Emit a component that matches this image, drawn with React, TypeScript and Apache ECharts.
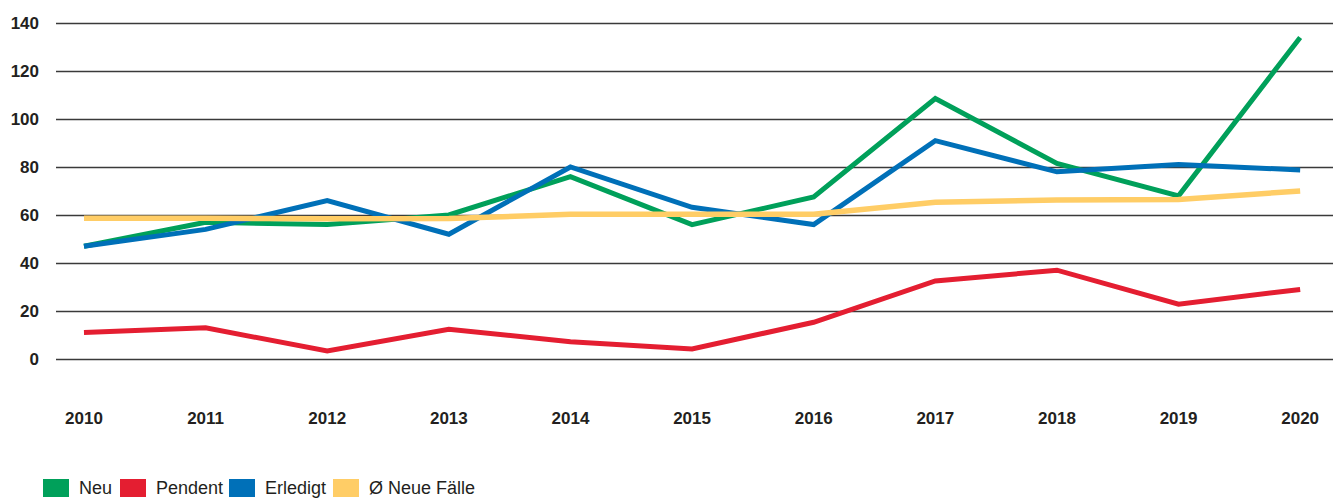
import React, { useEffect, useRef } from "react";
import * as echarts from "echarts";

const years = [2010, 2011, 2012, 2013, 2014, 2015, 2016, 2017, 2018, 2019, 2020];
const neu = [47, 57, 56, 60, 76, 56, 67.5, 108.5, 81.5, 68, 134];
const pendent = [11, 13, 3.3, 12.4, 7.2, 4.2, 15.3, 32.5, 37, 22.8, 29];
const erledigt = [47, 54, 66, 52, 80, 63.2, 56, 91, 78, 81, 78.8];
const avgNeu = [58.6, 58.6, 58.4, 58.5, 60.3, 60.3, 60.3, 65.3, 66.3, 66.5, 70];
const seriesNames = ["Neu", "Pendent", "Erledigt", "Ø Neue Fälle"];
const yTicks = [0, 20, 40, 60, 80, 100, 120, 140];

const FONT = "'Liberation Sans Narrow', 'Liberation Sans', sans-serif";

export default function App() {
  const ref = useRef<HTMLDivElement>(null);
  useEffect(() => {
    if (!ref.current) return;
    const chart = echarts.init(ref.current, undefined, { renderer: "svg" });
    const mk = (vals: number[]) => years.map((y, i) => [y, vals[i]]);
    const colors = ["#00A05A", "#E41E31", "#0070B8", "#FFCD66"];
    const data = [neu, pendent, erledigt, avgNeu];
    const zOrder = [2, 1, 3, 4];
    const legendLeft = [43, 120, 229, 333];
    chart.setOption({
      animation: false,
      grid: { left: 56, right: 11, top: 23, bottom: 142 },
      legend: seriesNames.map((n, i) => ({
        left: legendLeft[i],
        top: 479,
        padding: 0,
        itemWidth: 26,
        itemHeight: 18,
        icon: "rect",
        data: [n],
        textStyle: {
          fontFamily: FONT,
          fontSize: 18,
          color: "#231F20",
          padding: [0, 0, 0, 5],
        },
      })),
      xAxis: {
        type: "value",
        min: 2009.77,
        max: 2020.27,
        axisLine: { show: false },
        axisTick: { show: false },
        splitLine: { show: false },
        axisLabel: {
          customValues: years,
          margin: 51,
          fontFamily: FONT,
          fontWeight: "bold",
          fontSize: 17,
          color: "#231F20",
          formatter: (v: number) => String(Math.round(v)),
        },
      },
      yAxis: {
        type: "value",
        min: 0,
        max: 140,
        interval: 20,
        axisLine: { show: false },
        axisTick: { show: false },
        splitLine: { lineStyle: { color: "#3a3a3a", width: 1.3 } },
        axisLabel: {
          margin: 17,
          fontFamily: FONT,
          fontWeight: "bold",
          fontSize: 17,
          color: "#231F20",
          formatter: (v: number) => (yTicks.includes(v) ? String(v) : ""),
        },
      },
      series: seriesNames.map((n, k) => ({
        name: n,
        type: "line",
        data: mk(data[k]),
        showSymbol: false,
        symbol: "none",
        color: colors[k],
        lineStyle: { color: colors[k], width: k === 3 ? 5.5 : 5, cap: "butt", join: "miter" },
        z: zOrder[k],
      })),
    });
    return () => chart.dispose();
  }, []);
  return (
    <div
      ref={ref}
      style={{ position: "absolute", left: 0, top: 0, width: 1344, height: 501 }}
    />
  );
}
